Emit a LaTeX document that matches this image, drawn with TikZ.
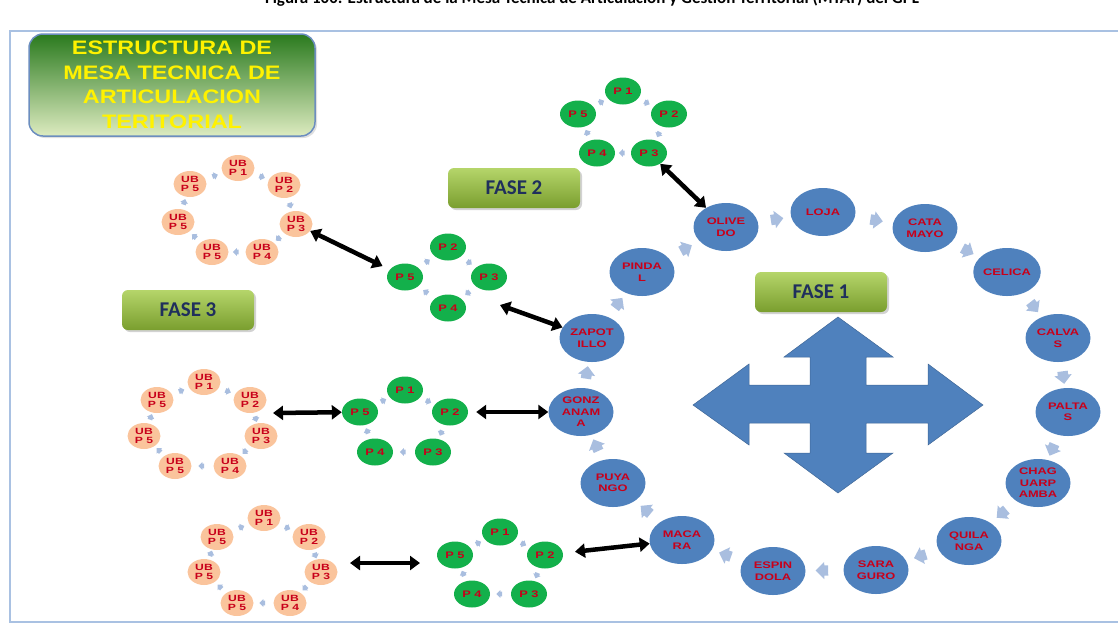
\documentclass[tikz,border=0pt]{standalone}
\usepackage{fontspec}
\setmainfont{Liberation Sans}
\newfontfamily\capfont{Carlito}
\newfontfamily\titlefont[FakeStretch=1.2]{Liberation Sans}
\newfontfamily\ringfont[FakeStretch=1.35]{Liberation Sans}
\usetikzlibrary{shapes.geometric,shapes.arrows,shadows,arrows.meta}

\definecolor{ringblue}{HTML}{4F81BD}
\definecolor{flowblue}{HTML}{A9BEDF}
\definecolor{pgreen}{HTML}{13B04B}
\definecolor{ubpeach}{HTML}{FAC49C}
\definecolor{labred}{HTML}{C8001A}
\definecolor{fasetop}{HTML}{B5D56A}
\definecolor{fasebot}{HTML}{7A9E2E}
\definecolor{fasetext}{HTML}{1F2F5C}
\definecolor{titletop}{HTML}{2A7A1E}
\definecolor{titlebot}{HTML}{DDEBC0}
\definecolor{titleedge}{HTML}{6C8EBF}
\definecolor{framec}{HTML}{A9C1E2}

\tikzset{
 place/.style={ellipse, fill=ringblue, minimum width=65pt, minimum height=48pt,
   inner sep=0pt, align=center, text=labred,
   font=\ringfont\bfseries\fontsize{9.5}{11.5}\selectfont},
 pnode/.style={ellipse, fill=pgreen, minimum width=36pt, minimum height=27pt,
   inner sep=0pt, text=labred, font=\ringfont\bfseries\fontsize{9.5}{10}\selectfont},
 ubnode/.style={ellipse, fill=ubpeach, minimum width=33pt, minimum height=26pt,
   inner sep=0pt, align=center, text=labred,
   font=\ringfont\bfseries\fontsize{9}{9.5}\selectfont},
 flow/.style={single arrow, fill=flowblue, text width=7pt, text height=5pt,
   text depth=5pt, single arrow head extend=3.5pt, inner sep=0pt,
   sloped, allow upside down},
 tiny/.style={single arrow, fill=flowblue, text width=3pt, text height=2.2pt,
   text depth=2.2pt, single arrow head extend=1.5pt, inner sep=0pt,
   sloped, allow upside down},
 link/.style={line width=4.5pt,
   {Triangle[length=10pt,width=14pt]}-{Triangle[length=10pt,width=14pt]}},
 fasebox/.style={rounded corners=6pt, top color=fasetop, bottom color=fasebot,
   minimum width=132pt, minimum height=40pt, text=fasetext,
   font=\capfont\bfseries\fontsize{21}{24}\selectfont,
   drop shadow={shadow xshift=2pt, shadow yshift=-2pt, fill=black!35}},
}

\begin{document}
\begin{tikzpicture}[x=1pt,y=-1pt]
 \useasboundingbox (0,0) rectangle (1118,625);
 \node[anchor=base, font=\capfont\bfseries\fontsize{17}{20}\selectfont] (caption) at (592,3)
  {Figura 100: Estructura de la Mesa Técnica de Articulación y Gestión Territorial (MTAT) del GPL};
 \draw[framec, line width=1.2pt] (10,31) rectangle (1135,622);

 % titulo
 \node[rounded corners=14pt, top color=titletop, bottom color=titlebot, draw=titleedge,
   line width=1.5pt, minimum width=286pt, minimum height=102pt, align=center,
   text=yellow, font=\titlefont\bfseries\fontsize{19.5}{24.5}\selectfont,
   drop shadow={shadow xshift=2pt, shadow yshift=-2pt, fill=black!25}] (title) at (172,85)
  {ESTRUCTURA DE\\MESA TECNICA DE\\ARTICULACION\\TERITORIAL};

 \node[fasebox] (fase2) at (514,188) {FASE 2};
 \node[fasebox] (fase3) at (188,310) {FASE 3};
 \node[fasebox] (fase1) at (821,292) {FASE 1};

 % cruz de flechas
 \fill[ringblue, draw=ringblue!80!black, line width=0.5pt]
  (838,317) -- (893,357) -- (866,357) -- (866,385) -- (928,385) -- (928,364)
  -- (983,405) -- (928,445) -- (928,423) -- (866,423) -- (866,453) -- (893,453)
  -- (838,493) -- (784,453) -- (810,453) -- (810,423) -- (749,423) -- (749,445)
  -- (693,405) -- (749,364) -- (749,385) -- (810,385) -- (810,357) -- (784,357) -- cycle;

 % fase 1
 \begin{scope}[every node/.style={place}]
  \node (olivedo) at (726,227) {OLIVE\\DO};
  \node (loja) at (823,212) {LOJA};
  \node (catamayo) at (925,228) {CATA\\MAYO};
  \node (celica) at (1007,272) {CELICA};
  \node (calvas) at (1058,338) {CALVA\\S};
  \node (paltas) at (1068,412) {PALTA\\S};
  \node (chaguarpamba) at (1038,483) {CHAG\\UARP\\AMBA};
  \node (quilanga) at (969,541) {QUILA\\NGA};
  \node (saraguro) at (876,570) {SARA\\GURO};
  \node (espindola) at (773,571) {ESPIN\\DOLA};
  \node (macara) at (682,540) {MACA\\RA};
  \node (puyango) at (613,483) {PUYA\\NGO};
  \node (gonzanama) at (581,412) {GONZ\\ANAM\\A};
  \node (zapotillo) at (592,338) {ZAPOT\\ILLO};
  \node (pindal) at (642,272) {PINDA\\L};
 \end{scope}
 \path (olivedo) -- node[flow] {} (loja);
 \path (loja) -- node[flow] {} (catamayo);
 \path (catamayo) -- node[flow] {} (celica);
 \path (celica) -- node[flow] {} (calvas);
 \path (calvas) -- node[flow] {} (paltas);
 \path (paltas) -- node[flow] {} (chaguarpamba);
 \path (chaguarpamba) -- node[flow] {} (quilanga);
 \path (quilanga) -- node[flow] {} (saraguro);
 \path (saraguro) -- node[flow] {} (espindola);
 \path (espindola) -- node[flow] {} (macara);
 \path (macara) -- node[flow] {} (puyango);
 \path (puyango) -- node[flow] {} (gonzanama);
 \path (gonzanama) -- node[flow] {} (zapotillo);
 \path (zapotillo) -- node[flow] {} (pindal);
 \path (pindal) -- node[flow] {} (olivedo);

 % fase 2
 \begin{scope}[every node/.style={pnode}]
  \node (a1) at (623,91) {P 1};
  \node (a2) at (669,114) {P 2};
  \node (a3) at (649,153) {P 3};
  \node (a4) at (597,153) {P 4};
  \node (a5) at (578,114) {P 5};
  \node (b2) at (448,247) {P 2};
  \node (b3) at (489,277) {P 3};
  \node (b4) at (448,308) {P 4};
  \node (b5) at (405,277) {P 5};
  \node (c1) at (405,390) {P 1};
  \node (c2) at (450,412) {P 2};
  \node (c3) at (433,452) {P 3};
  \node (c4) at (375,452) {P 4};
  \node (c5) at (360,412) {P 5};
  \node (d1) at (500,532) {P 1};
  \node (d2) at (545,555) {P 2};
  \node (d3) at (529,594) {P 3};
  \node (d4) at (472,594) {P 4};
  \node (d5) at (455,555) {P 5};
 \end{scope}
 \path (a1) -- node[tiny] {} (a2);
 \path (a2) -- node[tiny] {} (a3);
 \path (a3) -- node[tiny] {} (a4);
 \path (a4) -- node[tiny] {} (a5);
 \path (a5) -- node[tiny] {} (a1);
 \path (b2) -- node[tiny] {} (b3);
 \path (b3) -- node[tiny] {} (b4);
 \path (b4) -- node[tiny] {} (b5);
 \path (b5) -- node[tiny] {} (b2);
 \path (c1) -- node[tiny] {} (c2);
 \path (c2) -- node[tiny] {} (c3);
 \path (c3) -- node[tiny] {} (c4);
 \path (c4) -- node[tiny] {} (c5);
 \path (c5) -- node[tiny] {} (c1);
 \path (d1) -- node[tiny] {} (d2);
 \path (d2) -- node[tiny] {} (d3);
 \path (d3) -- node[tiny] {} (d4);
 \path (d4) -- node[tiny] {} (d5);
 \path (d5) -- node[tiny] {} (d1);

 % fase 3
 \begin{scope}[every node/.style={ubnode}]
  \node (u1) at (238,168) {UB\\P 1};
  \node (u2) at (284,185) {UB\\P 2};
  \node (u3) at (296,224) {UB\\P 3};
  \node (u4) at (262,252) {UB\\P 4};
  \node (u5) at (212,252) {UB\\P 5};
  \node (u6) at (178,222) {UB\\P 5};
  \node (u7) at (190,184) {UB\\P 5};
  \node (v1) at (204,382) {UB\\P 1};
  \node (v2) at (250,400) {UB\\P 2};
  \node (v3) at (261,436) {UB\\P 3};
  \node (v4) at (230,466) {UB\\P 4};
  \node (v5) at (175,466) {UB\\P 5};
  \node (v6) at (144,436) {UB\\P 5};
  \node (v7) at (157,400) {UB\\P 5};
  \node (w1) at (264,518) {UB\\P 1};
  \node (w2) at (309,537) {UB\\P 2};
  \node (w3) at (321,572) {UB\\P 3};
  \node (w4) at (290,603) {UB\\P 4};
  \node (w5) at (237,603) {UB\\P 5};
  \node (w6) at (204,572) {UB\\P 5};
  \node (w7) at (217,537) {UB\\P 5};
 \end{scope}
 \path (u1) -- node[tiny] {} (u2);
 \path (u2) -- node[tiny] {} (u3);
 \path (u3) -- node[tiny] {} (u4);
 \path (u4) -- node[tiny] {} (u5);
 \path (u5) -- node[tiny] {} (u6);
 \path (u6) -- node[tiny] {} (u7);
 \path (u7) -- node[tiny] {} (u1);
 \path (v1) -- node[tiny] {} (v2);
 \path (v2) -- node[tiny] {} (v3);
 \path (v3) -- node[tiny] {} (v4);
 \path (v4) -- node[tiny] {} (v5);
 \path (v5) -- node[tiny] {} (v6);
 \path (v6) -- node[tiny] {} (v7);
 \path (v7) -- node[tiny] {} (v1);
 \path (w1) -- node[tiny] {} (w2);
 \path (w2) -- node[tiny] {} (w3);
 \path (w3) -- node[tiny] {} (w4);
 \path (w4) -- node[tiny] {} (w5);
 \path (w5) -- node[tiny] {} (w6);
 \path (w6) -- node[tiny] {} (w7);
 \path (w7) -- node[tiny] {} (w1);

 % enlaces
 \coordinate (bz) at (500,305);
 \coordinate (vc) at (273,413);
 \coordinate (wd) at (350,563);
 \coordinate (dw) at (420,563);
 \draw[link] (a3) -- (olivedo);
 \draw[link, shorten >=8pt] (u3) -- (b5);
 \draw[link] (bz) -- (zapotillo);
 \draw[link] (vc) -- (c5);
 \draw[link, shorten <=8pt] (c2) -- (gonzanama);
 \draw[link] (wd) -- (dw);
 \draw[link, shorten <=12pt] (d2) -- (macara);
\end{tikzpicture}
\end{document}
